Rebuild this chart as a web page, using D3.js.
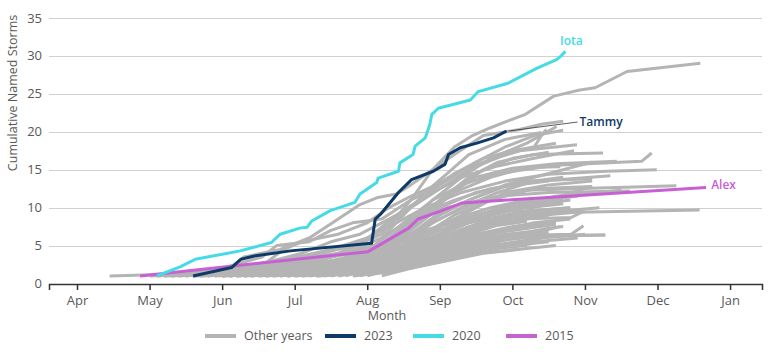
<!DOCTYPE html>
<html>
<head>
<meta charset="utf-8">
<script src="https://cdn.jsdelivr.net/npm/d3@7"></script>
<style>
  body { margin: 0; background: #fff; }
  text { font-family: "Open Sans", sans-serif; }
</style>
</head>
<body>
<svg id="chart" width="770" height="354"></svg>
<script>
// x values are fractional months (4 = 1 Apr, 13 = 1 Jan)
const monthTicks = [4, 5, 6, 7, 8, 9, 10, 11, 12, 13];
const monthLabels = ['Apr', 'May', 'Jun', 'Jul', 'Aug', 'Sep', 'Oct', 'Nov', 'Dec', 'Jan'];
const yTicks = [0, 5, 10, 15, 20, 25, 30, 35];

const series2023 = [
  [5.60, 1.0], [6.13, 2.1], [6.26, 3.2], [6.43, 3.6], [6.94, 4.3], [8.06, 5.3],
  [8.11, 8.5], [8.18, 9.1], [8.43, 12.0], [8.61, 13.7], [8.91, 14.8], [9.07, 15.7],
  [9.12, 17.0], [9.28, 17.9], [9.51, 18.5], [9.74, 19.2], [9.92, 20.1]
];
const series2020 = [
  [5.10, 1.0], [5.42, 2.2], [5.63, 3.2], [6.25, 4.3], [6.68, 5.4], [6.80, 6.5],
  [7.07, 7.3], [7.17, 7.4], [7.23, 8.2], [7.49, 9.6], [7.83, 10.7], [7.90, 11.8],
  [8.13, 13.3], [8.15, 13.9], [8.43, 14.8], [8.45, 15.9], [8.63, 17.0], [8.66, 18.1],
  [8.80, 19.2], [8.86, 20.9], [8.89, 22.3], [8.98, 23.1], [9.42, 24.2], [9.53, 25.3],
  [9.94, 26.4], [10.34, 28.4], [10.61, 29.5], [10.66, 29.9], [10.73, 30.6]
];
const series2015 = [
  [4.87, 1.0], [8.01, 4.2], [8.57, 7.3], [8.70, 8.5], [9.00, 9.5], [9.30, 10.6],
  [9.83, 10.95], [12.67, 12.65]
];

const otherYears = [
  [[5.3,1],[6.1,2],[6.3,3.5],[6.8,4.5],[7.2,6],[7.49,7.8],[7.9,10.4],[8.13,11.3],[8.4,11.8],[8.6,13],[8.9,15],[9.2,18],[9.45,19.5],[9.69,20.5],[9.93,21.4],[10.18,22.3],[10.57,24.7],[10.93,25.5],[11.14,25.8],[11.58,27.95],[12.59,29.05]],
  [[5.95,1],[6.7,2],[7.5,3],[8.0,4],[8.5,7],[8.9,10],[9.3,13],[9.6,15],[10.0,16.5],[10.5,17.3]],
  [[6.2,1],[7.1,2],[7.9,3],[8.3,5],[8.7,8],[9.0,11],[9.4,14],[9.8,16],[10.3,17],[11.25,17.2]],
  [[6.0,1],[6.9,2.5],[7.5,3.5],[8.1,5],[8.5,9],[8.8,12],[9.1,14.5],[9.4,17],[9.9,19],[10.4,19.9]],
  [[5.6,1],[6.4,2],[7.0,3],[7.6,4],[8.2,6.5],[8.6,11],[8.9,15],[9.2,17],[9.6,19.5],[10.1,20.3],[10.4,21],[10.7,21.4]],
  [[6.5,1],[7.3,2],[7.9,3],[8.4,6],[8.8,9],[9.2,12],[9.7,14],[10.2,15.3],[10.66,15.4]],
  [[6.8,1],[7.6,2],[8.2,3.5],[8.7,6],[9.2,9],[9.7,11],[10.3,12.5],[11.1,12.8]],
  [[7.0,1],[7.9,2],[8.5,4],[9.0,6],[9.6,8],[10.1,9.5],[10.8,10.0]],
  [[7.2,1],[8.0,2],[8.6,3],[9.1,4.5],[9.8,6],[10.5,7.3],[10.7,7.5]],
  [[5.8,1],[6.6,2],[7.3,2.5],[7.9,3],[8.4,4.5],[9.0,5.5],[9.6,6.2],[10.81,6.5],[10.98,7.6]],
  [[6.3,1],[7.4,2],[8.3,3.5],[8.8,5],[9.4,6],[10.0,6.3],[11.28,6.4]],
  [[6.0,1],[7.2,2],[7.9,3],[8.3,6],[8.7,9],[9.2,11],[9.7,12.5],[10.4,13.5],[11.35,14.2]],
  [[5.5,1],[6.3,2],[7.0,3],[7.7,4],[8.2,6],[8.6,8.5],[9.1,10],[9.8,11.5],[10.5,12.0],[11.62,12.2]],
  [[6.7,1],[7.7,2],[8.2,4],[8.6,7],[9.0,10],[9.5,12],[10.2,13.5],[11.1,13.8]],
  [[7.4,1],[8.1,2],[8.5,4],[8.9,6],[9.4,8],[9.9,9],[10.3,9.3],[12.58,9.7]],
  [[5.2,1],[6.0,2],[6.8,3],[7.5,4.5],[8.0,6],[8.4,8],[8.8,10],[9.3,12],[9.9,13.5],[10.5,14.4],[11.3,14.8],[11.99,15.0]],
  [[6.1,1],[6.9,2],[7.6,3],[8.1,5],[8.5,8],[8.9,11],[9.3,13],[9.8,14.5],[10.6,15.6],[11.78,16.1],[11.92,17.2]],
  [[6.4,1],[7.2,2],[7.8,3],[8.3,5],[8.7,7],[9.1,9],[9.6,11],[10.2,12.3],[11.2,12.6],[12.26,12.9]],
  [[5.9,1],[6.8,2],[7.6,3],[8.2,5],[8.6,8],[9.0,11],[9.5,14],[10.0,15.2],[10.6,15.8],[11.44,16.1]],
  [[6.6,1],[7.5,2],[8.1,3],[8.6,5],[9.1,7],[9.7,9],[10.3,10.5],[11.1,12.8]],
  [[7.6,1],[8.2,2],[8.7,3],[9.2,4.5],[9.8,5.5],[10.66,7.5]],
  [[6.9,1],[7.8,2],[8.4,3],[9.0,4],[9.7,5],[10.4,6],[11.0,6.5]],
  [[7.9,1],[8.3,2],[8.8,3.5],[9.3,5],[9.9,6],[10.4,6.5]],
  [[6.2,1],[7.0,1.5],[7.7,2],[8.2,3],[8.7,5],[9.1,7],[9.5,8.5],[10.0,10],[10.8,11]],
  [[5.7,1],[6.5,2],[7.2,3],[7.8,4],[8.3,5.5],[8.8,7],[9.3,8.5],[9.9,10],[10.6,11.5],[11.5,12.3]],
  [[6.0,1],[6.8,2],[7.5,3.5],[7.95,5.5],[8.4,9],[8.8,11.5],[9.2,14.5],[9.6,16],[10.1,17.5],[10.89,18.3]],
  [[6.3,1],[7.0,2],[7.7,3],[8.1,4],[8.5,7],[8.9,11],[9.3,14],[9.7,16.5],[10.2,18.5],[10.61,20.7]],
  [[5.4,1],[6.2,2],[6.9,3],[7.4,4],[7.8,5],[8.2,7],[8.6,10],[9.0,12.5],[9.4,15],[9.9,17],[10.3,18],[10.42,19.8],[10.47,20.3]],
  [[7.1,1],[7.8,2],[8.3,3],[8.8,4.5],[9.3,6],[9.9,7],[10.6,8]],
  [[8.0,1],[8.4,2],[8.9,3],[9.4,4],[10.0,5],[10.5,5.5]],
  [[7.3,1],[8.0,1.5],[8.5,2.5],[9.0,3.5],[9.6,4.5],[10.2,5]],
  [[6.5,1],[7.4,1.5],[8.1,2],[8.6,3],[9.1,4],[9.7,5],[10.3,5.5],[10.9,6]],
  [[5.3,1],[6.1,1.5],[6.9,2],[7.6,2.5],[8.2,3.5],[8.7,5],[9.2,6.5],[9.8,8],[10.4,9],[11.0,9.5]],
  [[6.8,1],[7.5,2],[8.0,3],[8.5,5],[8.9,8],[9.3,10],[9.8,12],[10.3,13.5],[10.7,14]],
  [[7.7,1],[8.1,2],[8.5,3.5],[8.9,6],[9.3,8],[9.8,10],[10.4,11],[10.9,11.5]],
  [[6.1,1],[6.7,1.5],[7.3,2],[7.9,3],[8.3,4.5],[8.6,6.5],[8.95,9],[9.4,11],[9.9,12.8],[10.5,13.5]],
  [[4.45,1],[5.5,1.3],[6.5,2],[7.3,2.8],[8.0,3.5],[8.5,5],[9.0,7],[9.5,9],[10.1,10.5],[10.7,11]],
  [[6.9,1],[7.6,2],[8.1,2.5],[8.6,3.5],[9.1,5],[9.5,7],[10.0,8.5],[10.6,9.5],[11.2,10]],
  [[7.5,1],[8.0,2],[8.4,3],[8.8,4],[9.3,5.5],[9.8,7],[10.3,8],[10.8,8.5]],
  [[6.4,1],[7.2,2],[7.85,3],[8.25,4.5],[8.6,6],[9.0,7.5],[9.5,9],[10.1,10.5],[10.6,11.3]],
  [[5.5,1],[6.2,2],[6.7,3],[7.1,4],[7.5,5.5],[7.9,6.5],[8.2,8],[8.5,9.5],[8.9,12],[9.3,14],[9.8,15.5],[10.3,16.5],[10.85,17.5]],
  [[6.0,1],[6.7,2],[7.3,3],[7.7,4],[8.1,5],[8.6,6.5],[9.0,9],[9.4,11],[9.9,13],[10.5,14.5],[11.1,16.0]],
  [[5.8,1],[6.6,2],[7.4,2.5],[8.1,3],[8.6,4],[9.1,6],[9.6,8],[10.2,9.5],[10.79,10]],
  [[7.0,1],[7.7,1.5],[8.3,2.5],[8.8,4],[9.2,6],[9.6,7.5],[10.1,8.5],[10.81,8.7],[10.98,9.5]],
  [[6.6,1],[7.5,1.5],[8.3,2],[8.8,3.5],[9.3,5],[9.9,6],[10.8,6.3],[11.28,6.4]],
  [[6.2,1],[6.9,1.5],[7.6,2],[8.2,3.5],[8.7,5.5],[9.1,8],[9.5,10],[9.9,12],[10.5,13],[11.1,13.5]],
  [[5.1,1],[6.0,1.5],[6.9,2.5],[7.7,3],[8.3,4],[8.8,5.5],[9.2,7.5],[9.7,9],[10.2,10],[10.7,10.5]],
  [[5.3,1],[6.0,2],[6.55,3.5],[6.75,5],[7.2,5.5],[7.4,6.5],[7.5,7],[7.8,8],[8.2,8.5],[8.6,11],[9.0,13],[9.5,16],[9.9,18],[10.3,19.5],[10.7,20.2]],
  [[5.9,1],[6.5,2],[6.85,4.5],[7.1,5.5],[7.6,6.5],[8.0,8],[8.3,10],[8.6,11.5],[8.95,13],[9.3,15],[9.6,16.5],[10.0,17.5],[10.6,18.5]],
  [[8.2,1],[8.6,2],[9.0,3],[9.5,4],[10.1,4.5],[10.6,5]],
  [[7.8,1],[8.3,1.5],[8.8,2.5],[9.2,3.5],[9.7,4.5],[10.3,5.3]],
  [[5.0,1],[5.8,1.3],[6.6,1.6],[7.4,2],[8.0,2.5],[8.5,3.5],[9.0,5],[9.5,6.5],[10.0,7.5],[10.5,8]],
  [[6.3,1],[7.0,1.2],[7.8,1.8],[8.4,2.5],[8.9,4],[9.4,5.5],[9.9,6.5],[10.4,7]],
  [[7.1,1],[7.9,1.5],[8.6,2],[9.1,3],[9.6,4],[10.1,4.5]],
  [[5.6,1],[6.4,1.2],[7.2,1.6],[7.9,2.2],[8.4,3],[8.9,4.5],[9.4,6],[10.0,7],[10.6,7.8]],
  [[6.0,1],[6.9,1.3],[7.7,1.8],[8.3,2.8],[8.8,4],[9.3,5],[9.9,6],[10.5,6.8]],
  [[5.4,1],[6.1,1.4],[6.8,1.8],[7.5,2.4],[8.0,3.2],[8.5,4.2],[9.0,6],[9.6,7.8],[10.3,9],[10.9,9.6]],
  [[6.7,1],[7.3,1.4],[7.9,2],[8.4,2.8],[8.9,4.3],[9.4,6.5],[9.9,8],[10.5,9]],
  [[5.7,1],[6.5,1.5],[7.2,2],[7.8,2.6],[8.3,3.8],[8.7,5],[9.2,6.8],[9.7,8.5],[10.3,9.8]],
  [[6.4,1],[7.0,1.6],[7.6,2.3],[8.1,3.2],[8.6,4.5],[9.1,6.2],[9.6,7.4],[10.2,8.2]],
  [[7.3,1],[7.8,1.3],[8.3,2],[8.8,3],[9.3,4],[9.8,5],[10.4,5.8]],
  [[5.2,1],[5.9,1.2],[6.7,1.5],[7.5,1.8],[8.1,2.3],[8.6,3.2],[9.1,4.2],[9.7,5.5],[10.3,6.2]],
  [[6.1,1],[6.8,1.8],[7.4,2.6],[8.0,3.8],[8.4,5],[8.8,6.8],[9.2,8.5],[9.7,10],[10.3,11.2]],
  [[6.9,1],[7.4,1.6],[8.0,2.6],[8.5,3.8],[8.9,5.2],[9.4,7],[9.9,8.6],[10.5,9.6]]
];

const legendNames = ['Other years', '2023', '2020', '2015'];
const colors = { 'Other years': '#b4b4b4', '2023': '#0d3a66', '2020': '#45dbe6', '2015': '#c760d3' };

const svg = d3.select('#chart');
const margin = { top: 18, right: 8, bottom: 70, left: 49 };
const width = 770 - margin.left - margin.right;
const height = 354 - margin.top - margin.bottom;

const x = d3.scaleLinear().domain([3.614, 13.44]).range([margin.left, margin.left + width]);
const y = d3.scaleLinear().domain([0, 35]).range([margin.top + height - 0.5, margin.top]);

// gridlines
svg.append('g')
  .selectAll('line')
  .data(yTicks.filter(d => d > 0))
  .enter()
  .append('line')
  .attr('x1', margin.left)
  .attr('x2', margin.left + width)
  .attr('y1', d => Math.round(y(d)) + 0.5)
  .attr('y2', d => Math.round(y(d)) + 0.5)
  .attr('stroke', '#d0d0d0')
  .attr('stroke-width', 1);

// y labels
svg.append('g')
  .selectAll('text')
  .data(yTicks)
  .enter()
  .append('text')
  .attr('x', 42)
  .attr('y', d => y(d))
  .attr('dy', '0.35em')
  .attr('text-anchor', 'end')
  .attr('font-size', 13)
  .attr('fill', '#595959')
  .text(d => d);

const line = d3.line().x(d => x(d[0])).y(d => y(d[1]));

svg.append('g')
  .selectAll('path')
  .data(otherYears)
  .enter()
  .append('path')
  .attr('d', line)
  .attr('fill', 'none')
  .attr('stroke', colors['Other years'])
  .attr('stroke-width', 3)
  .attr('stroke-linejoin', 'round');

const highlights = [
  { name: '2015', data: series2015 },
  { name: '2020', data: series2020 },
  { name: '2023', data: series2023 }
];
highlights.forEach(s => {
  svg.append('path')
    .datum(s.data)
    .attr('d', line)
    .attr('fill', 'none')
    .attr('stroke', colors[s.name])
    .attr('stroke-width', 3)
    .attr('stroke-linejoin', 'round');
});

// x axis
const xAxis = svg.append('g')
  .attr('transform', `translate(0,${margin.top + height})`)
  .call(d3.axisBottom(x).tickValues(monthTicks).tickSizeOuter(0).tickSize(6)
    .tickFormat((d, i) => monthLabels[i]));
xAxis.select('.domain').attr('stroke', '#333').attr('stroke-width', 1.5);
xAxis.selectAll('.tick line').attr('stroke', '#333').attr('stroke-width', 1.5);
xAxis.selectAll('.tick text')
  .attr('font-family', '"Open Sans", sans-serif')
  .attr('font-size', 13)
  .attr('fill', '#595959')
  .attr('dy', '0.95em');

// axis titles
svg.append('text')
  .attr('transform', 'translate(17,93) rotate(-90)')
  .attr('text-anchor', 'middle')
  .attr('font-size', 12.5)
  .attr('fill', '#595959')
  .text('Cumulative Named Storms');

svg.append('text')
  .attr('x', 387)
  .attr('y', 320)
  .attr('text-anchor', 'middle')
  .attr('font-size', 12.5)
  .attr('fill', '#595959')
  .text('Month');

// end labels
const last = arr => arr[arr.length - 1];
const p20 = last(series2020), p23 = last(series2023), p15 = last(series2015);

svg.append('text')
  .attr('x', x(p20[0]) + 6)
  .attr('y', y(p20[1]) - 6)
  .attr('text-anchor', 'middle')
  .attr('font-size', 12)
  .attr('font-weight', 600)
  .attr('fill', colors['2020'])
  .text('Iota');

svg.append('line')
  .attr('x1', x(p23[0]) + 2)
  .attr('y1', y(p23[1]))
  .attr('x2', x(p23[0]) + 71)
  .attr('y2', y(p23[1]) - 9)
  .attr('stroke', '#333')
  .attr('stroke-width', 0.8);

svg.append('text')
  .attr('x', x(p23[0]) + 73)
  .attr('y', y(p23[1]) - 5)
  .attr('font-size', 12)
  .attr('font-weight', 600)
  .attr('fill', colors['2023'])
  .text('Tammy');

svg.append('text')
  .attr('x', x(p15[0]) + 5)
  .attr('y', y(p15[1]) + 1)
  .attr('font-size', 12)
  .attr('font-weight', 600)
  .attr('fill', colors['2015'])
  .text('Alex');

// legend
const legendX = [205, 325, 413, 506];
const legend = svg.append('g');
legendNames.forEach((name, i) => {
  legend.append('line')
    .attr('x1', legendX[i]).attr('x2', legendX[i] + 31)
    .attr('y1', 336).attr('y2', 336)
    .attr('stroke', colors[name])
    .attr('stroke-width', 4);
  legend.append('text')
    .attr('x', legendX[i] + 39)
    .attr('y', 336)
    .attr('dy', '0.35em')
    .attr('font-size', 12.5)
    .attr('fill', '#595959')
    .text(name);
});
</script>
</body>
</html>
